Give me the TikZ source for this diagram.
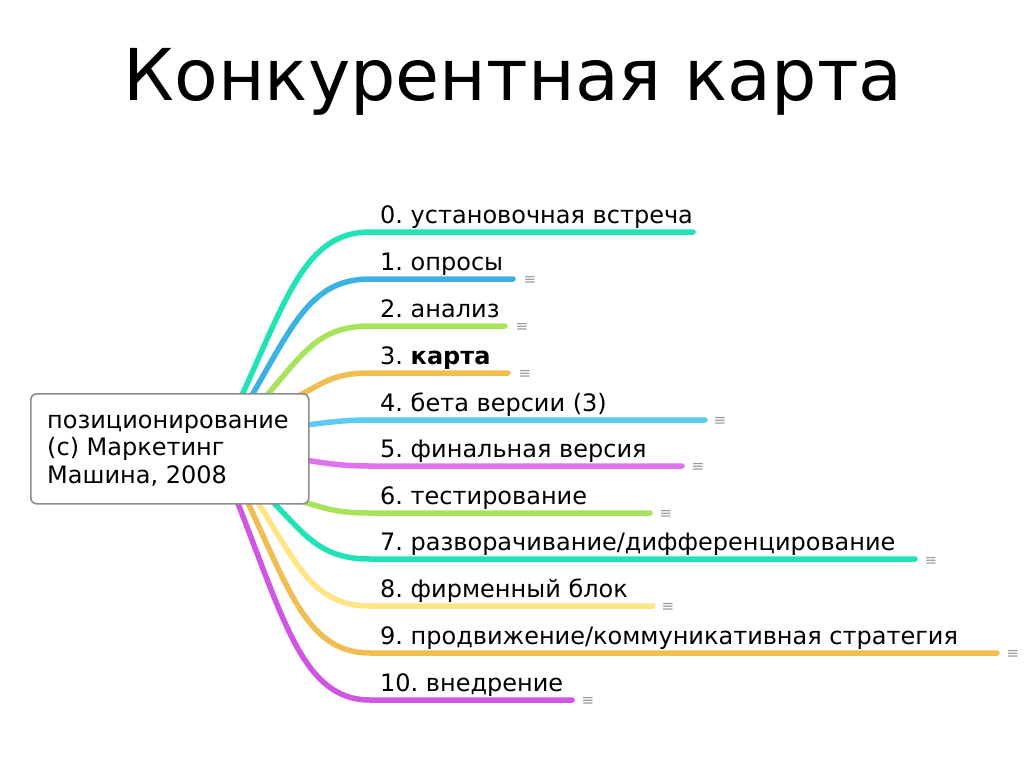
\documentclass[tikz,border=0pt]{standalone}
\usepackage{fontspec}
\setmainfont{DejaVu Sans}
\newfontfamily\titlefont{DejaVu Sans}
\frenchspacing
\definecolor{cturq}{HTML}{22E3B6}
\definecolor{cblue}{HTML}{3AB3E2}
\definecolor{cgreen}{HTML}{A8E35C}
\definecolor{corange}{HTML}{F0BE52}
\definecolor{clblue}{HTML}{5CCAF2}
\definecolor{cpink}{HTML}{E072EE}
\definecolor{cyellow}{HTML}{FFE586}
\definecolor{cpurple}{HTML}{D055E2}
\definecolor{cborder}{HTML}{8C8C8C}
\begin{document}
\begin{tikzpicture}[x=1pt,y=-1pt,
  br/.style={line width=5.5pt, line cap=round},
  lbl/.style={anchor=base west, inner sep=0pt, font=\fontsize{24}{28}\selectfont},
  note/.style={text=gray!80, font=\fontsize{15}{15}\selectfont, inner sep=0pt}]
\useasboundingbox (0,0) rectangle (1024,768);
\node (title) [font=\titlefont\fontsize{71.5}{80}\selectfont, anchor=base, inner sep=0pt] at (513,100) {Конкурентная карта};

% start, bend, end coordinates
\coordinate (s0) at (242,395); \coordinate (m0) at (370,232); \coordinate (e0) at (693,232);
\coordinate (s1) at (252,395); \coordinate (m1) at (370,279); \coordinate (e1) at (513,279);
\coordinate (s2) at (267,395); \coordinate (m2) at (370,326); \coordinate (e2) at (505,326);
\coordinate (s3) at (300,395); \coordinate (m3) at (370,373); \coordinate (e3) at (508,373);
\coordinate (s4) at (305,425); \coordinate (m4) at (370,420); \coordinate (e4) at (705,420);
\coordinate (s5) at (305,460); \coordinate (m5) at (370,466); \coordinate (e5) at (682,466);
\coordinate (s6) at (300,501); \coordinate (m6) at (370,513); \coordinate (e6) at (650,513);
\coordinate (s7) at (272,501); \coordinate (m7) at (370,559); \coordinate (e7) at (915,559);
\coordinate (s8) at (257,501); \coordinate (m8) at (370,606); \coordinate (e8) at (653,606);
\coordinate (s9) at (247,501); \coordinate (m9) at (370,653); \coordinate (e9) at (997,653);
\coordinate (s10) at (237,501); \coordinate (m10) at (370,700); \coordinate (e10) at (572,700);

\draw[br, cturq]   (s0) .. controls (287,297) and (306,232) .. (m0) -- (e0);
\draw[br, cblue]   (s1) .. controls (293,325) and (311,279) .. (m1) -- (e1);
\draw[br, cgreen]  (s2) .. controls (303,354) and (318,326) .. (m2) -- (e2);
\draw[br, corange] (s3) .. controls (325,382) and (335,373) .. (m3) -- (e3);
\draw[br, clblue]  (s4) .. controls (325,423) and (340,420) .. (m4) -- (e4);
\draw[br, cpink]   (s5) .. controls (325,463) and (340,466) .. (m5) -- (e5);
\draw[br, cgreen]  (s6) .. controls (325,508) and (335,513) .. (m6) -- (e6);
\draw[br, cturq]   (s7) .. controls (306,536) and (321,559) .. (m7) -- (e7);
\draw[br, cyellow] (s8) .. controls (297,564) and (313,606) .. (m8) -- (e8);
\draw[br, corange] (s9) .. controls (290,592) and (308,653) .. (m9) -- (e9);
\draw[br, cpurple] (s10) .. controls (284,620) and (303,700) .. (m10) -- (e10);

\node (center) [draw=cborder, line width=1.6pt, rounded corners=6pt, fill=white,
  anchor=north west, minimum width=278pt, minimum height=110pt, inner sep=0pt] at (30,393) {};
\node (centertext) [anchor=base west, inner sep=0pt, align=left,
  font=\fontsize{24}{27.5}\selectfont] at (47,483)
  {позиционирование\\(с) Маркетинг\\Машина, 2008};

\node (l0) [lbl] at (380,223) {0. установочная встреча};
\node (l1) [lbl] at (380,270) {1. опросы};
\node (l2) [lbl] at (380,317) {2. анализ};
\node (l3) [lbl] at (380,364) {3. \textbf{карта}};
\node (l4) [lbl] at (380,411) {4. бета версии (3)};
\node (l5) [lbl] at (380,457) {5. финальная версия};
\node (l6) [lbl] at (380,504) {6. тестирование};
\node (l7) [lbl] at (380,550) {7. разворачивание/дифференцирование};
\node (l8) [lbl] at (380,597) {8. фирменный блок};
\node (l9) [lbl] at (380,644) {9. продвижение/коммуникативная стратегия};
\node (l10) [lbl] at (380,691) {10. внедрение};

\node (n1) [note] at (530,280) {≡};
\node (n2) [note] at (522,327) {≡};
\node (n3) [note] at (525,374) {≡};
\node (n4) [note] at (720,421) {≡};
\node (n5) [note] at (698,467) {≡};
\node (n6) [note] at (666,514) {≡};
\node (n7) [note] at (931,561) {≡};
\node (n8) [note] at (668,607) {≡};
\node (n9) [note] at (1013,654) {≡};
\node (n10) [note] at (588,701) {≡};
\end{tikzpicture}
\end{document}
